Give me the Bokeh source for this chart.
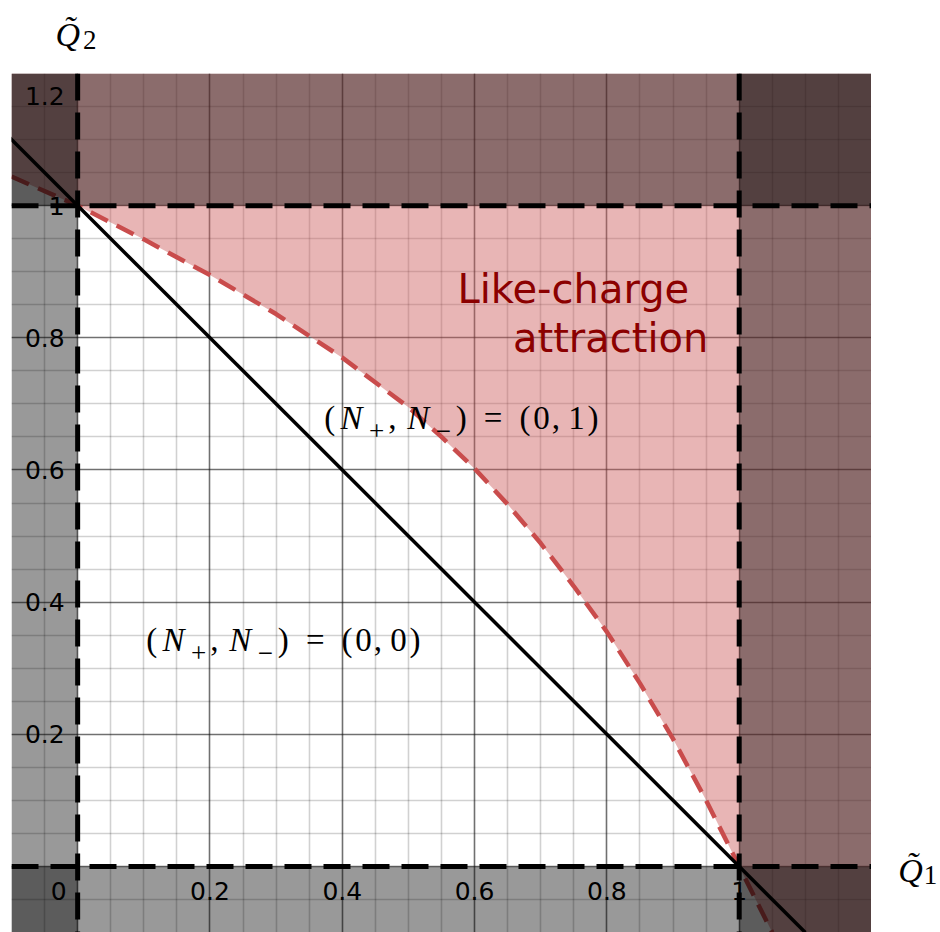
import numpy as np
from bokeh.plotting import figure
from bokeh.layouts import column, row
from bokeh.models import (BoxAnnotation, Span, Slope, Grid, FixedTicker,
                          ColumnDataSource, Range1d)
from bokeh.core.properties import value
from bokeh.embed import file_html
from bokeh.resources import INLINE

# ---------------- data ----------------
# boundary curve separating the (0,0) and (0,1) regions
curve_q1 = [-0.10, 0.00, 0.10, 0.20, 0.30, 0.40, 0.50, 0.55, 0.60, 0.65,
            0.70, 0.75, 0.80, 0.85, 0.90, 0.95, 1.00, 1.05]
curve_q2 = [1.044, 1.000, 0.949, 0.895, 0.836, 0.770, 0.695, 0.650, 0.602, 0.548,
            0.489, 0.424, 0.355, 0.277, 0.193, 0.100, 0.000, -0.100]

# physical bounds of Q1, Q2
q_lower = 0.0
q_upper = 1.0

# tick labels
x_tick_vals = [0.2, 0.4, 0.6, 0.8, 1.0]
x_tick_text = ["0.2", "0.4", "0.6", "0.8", "1"]
y_tick_vals = [0.2, 0.4, 0.6, 0.8, 1.0, 1.2]
y_tick_text = ["0.2", "0.4", "0.6", "0.8", "1", "1.2"]

x_start, x_end = -0.1, 1.2
y_start, y_end = -0.1, 1.2

SERIF = "Liberation Serif"
SANS = "DejaVu Sans"

# ---------------- main figure ----------------
p = figure(width=871, height=859, output_backend="svg", toolbar_location=None,
           x_range=Range1d(x_start, x_end), y_range=Range1d(y_start, y_end),
           x_axis_location=None, y_axis_location=None,
           min_border_left=11, min_border_right=0, min_border_top=0,
           min_border_bottom=0)
p.outline_line_color = None
p.background_fill_color = "white"
p.border_fill_color = "white"

major = [round(v, 2) for v in np.arange(0.0, 1.21, 0.2)]
minor = [round(v, 2) for v in np.arange(-0.1, 1.26, 0.05)]
for dim in (0, 1):
    g = Grid(dimension=dim, ticker=FixedTicker(ticks=major, minor_ticks=minor),
             grid_line_color="black", grid_line_alpha=0.40, grid_line_width=1.6,
             minor_grid_line_color="black", minor_grid_line_alpha=0.18,
             minor_grid_line_width=1.6)
    p.add_layout(g)

# pink "like-charge attraction" fill above the boundary curve
fill_x = curve_q1 + [x_end]
fill_y1 = curve_q2 + [y_start]
p.varea(x=fill_x, y1=fill_y1, y2=[y_end] * len(fill_x),
        fill_color="#cd5c5c", fill_alpha=0.45)

# red dashed boundary
p.line(curve_q1, curve_q2, line_color="#c94c4c", line_width=4.5,
       line_dash="19 10")

# tick labels
p.text(x=x_tick_vals, y=[q_lower] * len(x_tick_vals), text=x_tick_text,
       text_font=value(SANS), text_font_size="25px",
       text_align="center", text_baseline="middle", y_offset=25,
       text_color="black")
y_label_shift = [0, 0, 0, 0, 0, 22]   # keep the top label inside the frame
p.text(x=[q_lower] * len(y_tick_vals), y=y_tick_vals, text=y_tick_text,
       text_font=value(SANS), text_font_size="25px",
       text_align="right", text_baseline="middle", x_offset=-13,
       y_offset=y_label_shift, text_color="black")
p.text(x=[q_lower], y=[q_lower], text=["0"],
       text_font=value(SANS), text_font_size="25px",
       text_align="center", text_baseline="middle", x_offset=-19, y_offset=25,
       text_color="black")


def math_label(fig, xc, yb, rhs, font_px=33, unit_px=37):
    """(N_+, N_-) = (a, b) set piecewise, LaTeX-like."""
    cells = [("(", "normal", 1.0, 0, 0.389, 0.0),
             ("N", "italic", 1.0, 0, 0.78, 0.0),
             ("+", "normal", 0.82, 13, 0.58, 0.0),
             (",", "normal", 1.0, 0, 0.278, 0.167),
             ("N", "italic", 1.0, 0, 0.78, 0.0),
             ("\u2212", "normal", 0.82, 13, 0.58, 0.0),
             (")", "normal", 1.0, 0, 0.389, 0.278),
             ("=", "normal", 1.0, 0, 0.778, 0.278),
             ("(", "normal", 1.0, 0, 0.389, 0.0),
             (rhs[0], "normal", 1.0, 0, 0.5, 0.0),
             (",", "normal", 1.0, 0, 0.278, 0.167),
             (rhs[1], "normal", 1.0, 0, 0.5, 0.0),
             (")", "normal", 1.0, 0, 0.389, 0.0)]
    total = sum(c[4] + c[5] for c in cells) * unit_px
    pos = -total / 2
    xs, ys, txt, sty, size, xo, yo = [], [], [], [], [], [], []
    for t, s, sc, dy, adv, sp in cells:
        xs.append(xc)
        ys.append(yb)
        txt.append(t)
        sty.append(s)
        size.append(f"{font_px * sc:.1f}px")
        xo.append(pos + adv * unit_px / 2)
        yo.append(dy)
        pos += (adv + sp) * unit_px
    src = ColumnDataSource(dict(x=xs, y=ys, text=txt, style=sty, size=size,
                                xo=xo, yo=yo))
    fig.text(x="x", y="y", text="text", source=src, text_font=value(SERIF),
             text_font_style="style", text_font_size="size",
             x_offset="xo", y_offset="yo", text_align="center",
             text_baseline="alphabetic", text_color="black")


math_label(p, 0.580, 0.679, ("0", "1"))
math_label(p, 0.311, 0.342, ("0", "0"))

# region label
p.text(x=[0.574], y=[0.874], text=["Like-charge"], text_font=value(SANS),
       text_font_size="40px", text_color="#8b0000", text_align="left",
       text_baseline="alphabetic")
p.text(x=[0.658], y=[0.800], text=["attraction"], text_font=value(SANS),
       text_font_size="40px", text_color="#8b0000", text_align="left",
       text_baseline="alphabetic")

# forbidden regions shading
for kw in (dict(right=q_lower), dict(top=q_lower),
           dict(left=q_upper), dict(bottom=q_upper)):
    p.add_layout(BoxAnnotation(fill_color="black", fill_alpha=0.4,
                               line_color=None, **kw))

# dashed boundaries
for loc in (q_lower, q_upper):
    p.add_layout(Span(location=loc, dimension="height", line_color="black",
                      line_width=5, line_dash="27 12"))
    p.add_layout(Span(location=loc, dimension="width", line_color="black",
                      line_width=5, line_dash="27 12"))

# Q1 + Q2 = 1 line
p.add_layout(Slope(gradient=-1, y_intercept=q_upper, line_color="black",
                   line_width=3.5))

# ---------------- axis-name strips ----------------
top = figure(width=940, height=73, output_backend="svg", toolbar_location=None,
             x_range=p.x_range, y_range=Range1d(0, 73),
             x_axis_location=None, y_axis_location=None,
             min_border_left=11, min_border_right=69, min_border_top=0,
             min_border_bottom=0)
top.outline_line_color = None
top.xgrid.visible = False
top.ygrid.visible = False
top.text(x=[q_lower, q_lower], y=[39, 39], text=["Q\u0303", "2"],
         text_font=value(SERIF), text_font_style=["italic", "normal"],
         text_font_size=["34px", "27px"], x_offset=[-10, 12], y_offset=[0, 5],
         text_align="center", text_baseline="alphabetic", text_color="black")

right = figure(width=69, height=859, output_backend="svg",
               toolbar_location=None, x_range=Range1d(0, 69),
               y_range=p.y_range, x_axis_location=None, y_axis_location=None,
               min_border_left=0, min_border_right=0, min_border_top=0,
               min_border_bottom=0)
right.outline_line_color = None
right.xgrid.visible = False
right.ygrid.visible = False
right.text(x=[39, 59], y=[q_lower, q_lower], text=["Q\u0303", "1"],
           text_font=value(SERIF), text_font_style=["italic", "normal"],
           text_font_size=["34px", "27px"], y_offset=[4, 9],
           text_align="center", text_baseline="alphabetic", text_color="black")

layout = column(top, row(p, right, spacing=0), spacing=0)
open("out.html", "w").write(file_html(layout, INLINE))
